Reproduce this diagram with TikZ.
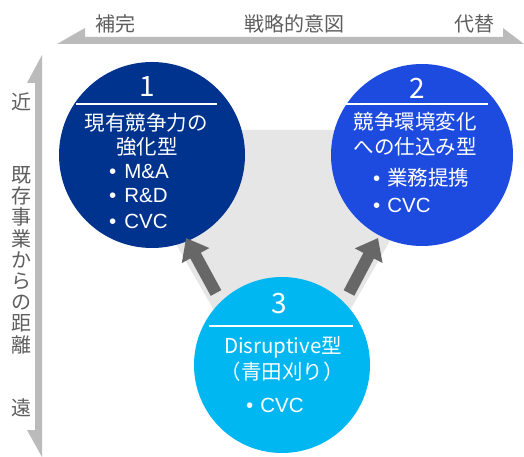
\documentclass[tikz,border=0pt]{standalone}
\usepackage{fontspec}
\setmainfont{Noto Sans CJK JP}
\newfontfamily\latin{Liberation Sans}
\usetikzlibrary{arrows.meta}
\definecolor{cone}{HTML}{00338D}
\definecolor{ctwo}{HTML}{1E4BDF}
\definecolor{cthree}{HTML}{00B7F1}
\definecolor{bgtri}{HTML}{E6E6E6}
\definecolor{axisgray}{HTML}{BBBBBB}
\definecolor{labelgray}{HTML}{5E5E5E}
\definecolor{arrowgray}{HTML}{676767}
\begin{document}
\begin{tikzpicture}[x=1pt,y=-1pt,
  circ/.style={circle, minimum size=#1, inner sep=0pt, draw=none},
  txt/.style={text=white, font=\fontsize{20.5}{20.5}\selectfont, inner sep=0pt},
  bul/.style={txt, anchor=west},
  num/.style={text=white, font=\fontsize{28}{28}\selectfont, inner sep=0pt},
  axl/.style={text=labelgray, font=\fontsize{20}{20}\selectfont, inner sep=0pt},
  sep/.style={white, line width=1.2pt},
  blk/.style={line width=12pt, arrowgray, -{Triangle[width=30pt,length=20pt]}}
]
\useasboundingbox (0,0) rectangle (524,457);
% axes
\fill[axisgray] (57,44) -- (85,28) -- (85,37) -- (503,37) -- (503,28) -- (524,44) -- cycle;
\fill[axisgray] (42,55) -- (27,83) -- (35,83) -- (35,430) -- (27,430) -- (42,457) -- cycle;
\node[axl] (lhoka) at (115,24) {補完};
\node[axl] (lsen) at (294,24) {戦略的意図};
\node[axl] (ldai) at (474,24) {代替};
\node[axl] (lkin) at (22,102) {近};
\node[axl, align=center, font=\fontsize{20}{21.2}\selectfont] (lkyo) at (22,260) {既\\存\\事\\業\\か\\ら\\の\\距\\離};
\node[axl] (len) at (22,408) {遠};
% background triangle
\fill[bgtri] (110,130) -- (454,130) -- (282,428) -- cycle;
% circles
\node[circ=186pt, fill=cone] (c1) at (152,155) {};
\node[circ=182pt, fill=ctwo] (c2) at (422,155) {};
% arrows
\coordinate (a1s) at (216,293);
\coordinate (a1e) at (186,238);
\coordinate (a2s) at (349,293);
\coordinate (a2e) at (378,238);
\draw[blk] (a1s) -- (a1e);
\draw[blk] (a2s) -- (a2e);
\node[circ=176pt, fill=cthree] (c3) at (282,365) {};
% circle 1 text
\node[num] (n1) at (147,87) {1};
\coordinate (s1a) at (76,104);
\coordinate (s1b) at (217,104);
\draw[sep] (s1a) -- (s1b);
\node[txt] (t1a) at (146,123) {現有競争力の};
\node[txt] (t1b) at (147,147) {強化型};
\node[bul] (b1a) at (109,172) {\latin •\hspace{8pt}M\&A};
\node[bul] (b1b) at (109,196) {\latin •\hspace{8pt}R\&D};
\node[bul] (b1c) at (109,221) {\latin •\hspace{8pt}CVC};
% circle 2 text
\node[num] (n2) at (417,88) {2};
\coordinate (s2a) at (345,104);
\coordinate (s2b) at (488,104);
\draw[sep] (s2a) -- (s2b);
\node[txt] (t2a) at (415,122) {競争環境変化};
\node[txt] (t2b) at (415,147) {への仕込み型};
\node[bul] (b2a) at (373,178) {{\latin •}\hspace{7pt}業務提携};
\node[bul] (b2b) at (373,205) {\latin •\hspace{7pt}CVC};
% circle 3 text
\node[num] (n3) at (279,304) {3};
\coordinate (s3a) at (209,326);
\coordinate (s3b) at (353,326);
\draw[sep] (s3a) -- (s3b);
\node[txt] (t3a) at (283,347) {Disruptive型};
\node[txt] (t3b) at (282,372) {（青田刈り）};
\node[bul] (b3a) at (246,405) {\latin •\hspace{7pt}CVC};
\end{tikzpicture}
\end{document}
